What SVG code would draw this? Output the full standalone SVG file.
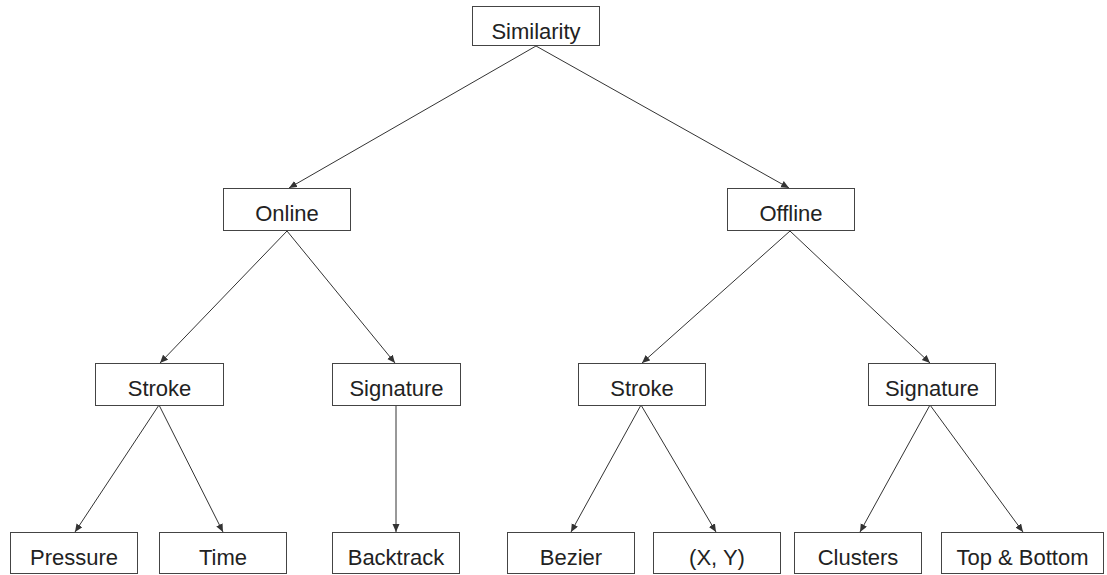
<svg xmlns="http://www.w3.org/2000/svg" width="1107" height="575" viewBox="0 0 1107 575">
<style>
.box{fill:#fff;stroke:#444;stroke-width:1}
.lbl{font-family:"Liberation Sans",Arial,sans-serif;font-size:22px;fill:#222;text-anchor:middle}
.edge{stroke:#333;stroke-width:1;fill:none;marker-end:url(#ah)}
</style>
<defs>
<marker id="ah" markerUnits="userSpaceOnUse" markerWidth="9" markerHeight="8" refX="8" refY="3.5" orient="auto">
<path d="M0,0 L8,3.5 L0,7 z" fill="#333"/>
</marker>
</defs>
<rect width="1107" height="575" fill="#fff"/>
<g id="connectors">
<line class="edge" x1="536" y1="46" x2="289" y2="188"/>
<line class="edge" x1="536" y1="46" x2="789" y2="188"/>
<line class="edge" x1="287" y1="231" x2="160" y2="363"/>
<line class="edge" x1="287" y1="231" x2="395" y2="363"/>
<line class="edge" x1="790" y1="231" x2="642" y2="363"/>
<line class="edge" x1="790" y1="231" x2="930" y2="363"/>
<line class="edge" x1="159" y1="405" x2="75" y2="532"/>
<line class="edge" x1="159" y1="405" x2="223" y2="532"/>
<line class="edge" x1="396" y1="405" x2="396" y2="532"/>
<line class="edge" x1="641" y1="405" x2="571" y2="532"/>
<line class="edge" x1="641" y1="405" x2="716" y2="532"/>
<line class="edge" x1="930" y1="405" x2="860" y2="532"/>
<line class="edge" x1="930" y1="405" x2="1023" y2="532"/>
</g>
<g id="similarity"><rect class="box" x="472.5" y="6.5" width="127" height="39"/><text class="lbl" x="536" y="39">Similarity</text></g>
<g id="online"><rect class="box" x="223.5" y="188.5" width="127" height="42"/><text class="lbl" x="287" y="221">Online</text></g>
<g id="offline"><rect class="box" x="727.5" y="188.5" width="127" height="42"/><text class="lbl" x="791" y="221">Offline</text></g>
<g id="stroke-online"><rect class="box" x="95.5" y="363.5" width="128" height="42"/><text class="lbl" x="159.5" y="396">Stroke</text></g>
<g id="signature-online"><rect class="box" x="332.5" y="363.5" width="128" height="42"/><text class="lbl" x="396.5" y="396">Signature</text></g>
<g id="stroke-offline"><rect class="box" x="578.5" y="363.5" width="127" height="42"/><text class="lbl" x="642" y="396">Stroke</text></g>
<g id="signature-offline"><rect class="box" x="868.5" y="363.5" width="127" height="42"/><text class="lbl" x="932" y="396">Signature</text></g>
<g id="pressure"><rect class="box" x="10.5" y="532.5" width="127" height="41"/><text class="lbl" x="74" y="565">Pressure</text></g>
<g id="time"><rect class="box" x="159.5" y="532.5" width="127" height="41"/><text class="lbl" x="223" y="565">Time</text></g>
<g id="backtrack"><rect class="box" x="332.5" y="532.5" width="127" height="41"/><text class="lbl" x="396" y="565">Backtrack</text></g>
<g id="bezier"><rect class="box" x="507.5" y="532.5" width="127" height="41"/><text class="lbl" x="571" y="565">Bezier</text></g>
<g id="xy"><rect class="box" x="653.5" y="532.5" width="127" height="41"/><text class="lbl" x="717" y="565">(X, Y)</text></g>
<g id="clusters"><rect class="box" x="794.5" y="532.5" width="127" height="41"/><text class="lbl" x="858" y="565">Clusters</text></g>
<g id="top-bottom"><rect class="box" x="941.5" y="532.5" width="162" height="41"/><text class="lbl" x="1022.5" y="565">Top &amp; Bottom</text></g>
</svg>
